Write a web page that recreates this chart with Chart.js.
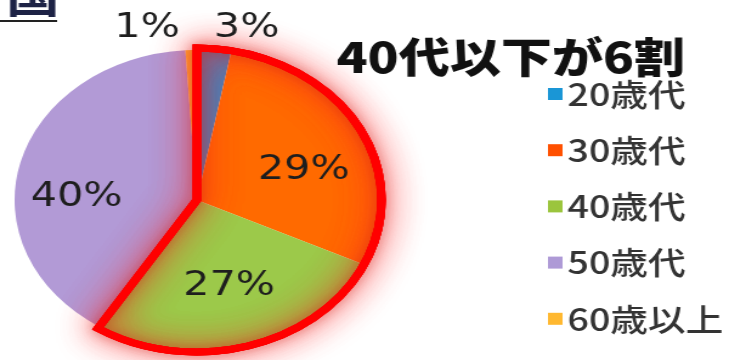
<!DOCTYPE html>
<html><head><meta charset="utf-8">
<script src="https://cdn.jsdelivr.net/npm/chart.js@4.4.1/dist/chart.umd.min.js"></script>
<style>
html,body{margin:0;padding:0;background:#fff;overflow:hidden;width:729px;height:360px;}
#wrap{width:600px;height:360px;transform:scaleX(1.215);transform-origin:0 0;}
canvas{display:block;}
</style></head><body>
<div id="wrap"><canvas id="c" width="600" height="360"></canvas></div>
<script>
const categories = ['20歳代', '30歳代', '40歳代', '50歳代', '60歳以上'];
const shares = [3, 29, 27, 40, 1];
const valueLabels = ['3%', '29%', '27%', '40%', '1%'];
const titleText = '40代以下が6割';
const headingFragment = '国';
const highlighted = [0, 1, 2];

const sliceColors = ['#3f84bf', '#ff6a00', '#9cc94a', '#b29ad6', '#ffb835'];
const legendColors = ['#1a96d6', '#ff5000', '#9bc53d', '#ae9ad6', '#ffb830'];
// label placement: [angle offset in degrees, radius factor]
const labelPlace = [[8, 1.18], [8, 0.62], [-1, 0.60], [-12.7, 0.66], [-11.6, 1.18]];

const overlay = {
  id: 'overlay',
  afterDatasetsDraw(chart) {
    const ctx = chart.ctx;
    const arcs = chart.getDatasetMeta(0).data;
    const cx = arcs[0].x, cy = arcs[0].y, R = arcs[0].outerRadius;
    const a0 = arcs[highlighted[0]].startAngle;
    const a1 = arcs[highlighted[highlighted.length - 1]].endAngle;
    const ro = R + 2;
    const path = () => {
      ctx.beginPath();
      ctx.moveTo(cx, cy);
      ctx.arc(cx, cy, ro, a0, a1);
      ctx.closePath();
    };
    ctx.save();
    ctx.lineJoin = 'miter';
    ctx.shadowColor = 'rgba(255,40,40,0.8)';
    ctx.shadowBlur = 30;
    ctx.strokeStyle = '#ff0000';
    ctx.lineWidth = 7;
    path(); ctx.stroke(); ctx.stroke();
    ctx.shadowBlur = 12;
    ctx.shadowColor = 'rgba(200,30,20,0.6)';
    path(); ctx.stroke();
    ctx.shadowBlur = 0;
    path(); ctx.stroke();
    ctx.restore();

    ctx.save();
    ctx.font = '34px "DejaVu Sans"';
    ctx.fillStyle = '#1e1e1e';
    ctx.textAlign = 'center';
    ctx.textBaseline = 'middle';
    arcs.forEach((arc, i) => {
      const mid = (arc.startAngle + arc.endAngle) / 2 + labelPlace[i][0] * Math.PI / 180;
      const r = R * labelPlace[i][1];
      ctx.fillText(valueLabels[i], cx + Math.cos(mid) * r, cy + Math.sin(mid) * r);
    });
    ctx.restore();
  },
  afterDraw(chart) {
    const ctx = chart.ctx;
    ctx.save();
    ctx.font = 'bold 44px "Noto Sans CJK JP"';
    ctx.fillStyle = '#1d2245';
    ctx.textAlign = 'left';
    ctx.textBaseline = 'alphabetic';
    ctx.fillText(headingFragment, 5, 13);
    ctx.fillStyle = '#222';
    ctx.fillRect(0, 20, 47, 2);
    ctx.font = '900 42px "Noto Sans CJK JP"';
    ctx.fillStyle = '#111';
    ctx.textBaseline = 'middle';
    ctx.fillText(titleText, 277, 57);
    ctx.font = '500 31px "Noto Sans CJK JP"';
    categories.forEach((c, i) => {
      const y = 94 + i * 56.2;
      ctx.fillStyle = legendColors[i];
      ctx.fillRect(451, y - 6, 12, 12);
      ctx.fillStyle = '#333';
      ctx.fillText(c, 467, y);
    });
    ctx.restore();
  }
};

new Chart(document.getElementById('c'), {
  type: 'pie',
  data: {
    labels: categories,
    datasets: [{
      data: shares,
      backgroundColor: sliceColors,
      borderWidth: 0,
      radius: 150
    }]
  },
  options: {
    responsive: false,
    animation: false,
    devicePixelRatio: 1,
    layout: { padding: { left: 12, right: 288, top: 50, bottom: 10 } },
    plugins: { legend: { display: false }, title: { display: false }, tooltip: { enabled: false } },
    events: []
  },
  plugins: [overlay]
});
</script>
</body></html>
